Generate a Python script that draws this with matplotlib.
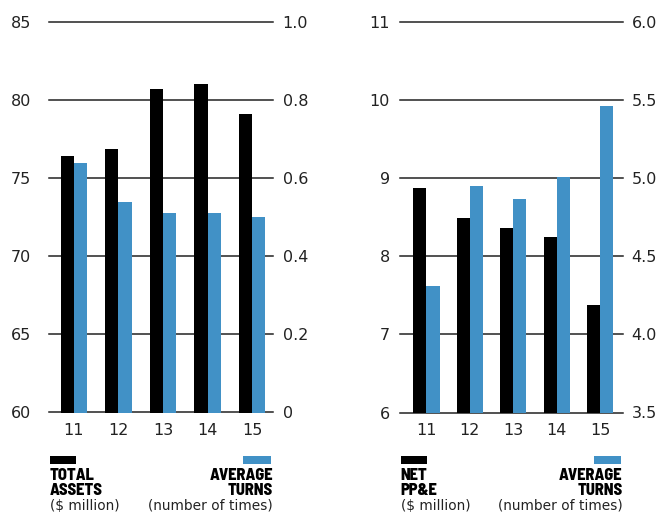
import matplotlib
matplotlib.use("Agg")
import matplotlib.pyplot as plt
from matplotlib.patches import Rectangle

# ---- data -------------------------------------------------------------
years = ["11", "12", "13", "14", "15"]

total_assets = [76.4, 76.9, 80.7, 81.0, 79.1]          # $ million
assets_turns = [0.64, 0.54, 0.51, 0.51, 0.50]           # number of times

net_ppe = [8.87, 8.49, 8.36, 8.25, 7.38]                # $ million
ppe_turns = [4.31, 4.95, 4.87, 5.01, 5.46]              # number of times

left_ticks_a = [60, 65, 70, 75, 80, 85]
left_labels_a = ["60", "65", "70", "75", "80", "85"]
right_ticks_a = [0, 0.2, 0.4, 0.6, 0.8, 1.0]
right_labels_a = ["0", "0.2", "0.4", "0.6", "0.8", "1.0"]

left_ticks_b = [6, 7, 8, 9, 10, 11]
left_labels_b = ["6", "7", "8", "9", "10", "11"]
right_ticks_b = [3.5, 4.0, 4.5, 5.0, 5.5, 6.0]
right_labels_b = ["3.5", "4.0", "4.5", "5.0", "5.5", "6.0"]

legend_a = (["TOTAL", "ASSETS"], "($ million)")
legend_b = (["NET", "PP&E"], "($ million)")
legend_turns = (["AVERAGE", "TURNS"], "(number of times)")

# ---- style ------------------------------------------------------------
W, H = 660, 516
BLACK = "#000000"
BLUE = "#4191c6"
GRID = "#222222"
TXT = "#222222"
BAR_W = 0.3
BOLD_FAMILY = ["Barlow Semi Condensed", "DejaVu Sans"]

fig = plt.figure(figsize=(W / 100, H / 100), dpi=100)


def px_box(x0, x1, ytop, ybot):
    return [x0 / W, 1 - ybot / H, (x1 - x0) / W, (ybot - ytop) / H]


def panel(box, xlim, bars_l, bars_r, lt, ll, rt, rl, lpad, rpad):
    ax = fig.add_axes(box)
    ax2 = ax.twinx()
    x = range(len(years))
    ax.set_ylim(lt[0], lt[-1])
    ax2.set_ylim(rt[0], rt[-1])
    ax.set_xlim(*xlim)
    # horizontal rules behind the bars
    for t in lt:
        ax.axhline(t, color=GRID, linewidth=1.1, zorder=0, clip_on=False)
    ax.bar([i - BAR_W / 2 for i in x], bars_l, width=BAR_W, color=BLACK,
           linewidth=0, zorder=3)
    ax2.bar([i + BAR_W / 2 for i in x], bars_r, width=BAR_W, color=BLUE,
            linewidth=0, zorder=3)
    ax.set_yticks(lt)
    ax.set_yticklabels(ll)
    ax2.set_yticks(rt)
    ax2.set_yticklabels(rl)
    ax.set_xticks(list(x))
    ax.set_xticklabels(years)
    for a in (ax, ax2):
        for s in a.spines.values():
            s.set_visible(False)
        a.tick_params(length=0, labelsize=11.5, colors=TXT)
    ax.tick_params(axis="y", pad=lpad)
    ax2.tick_params(axis="y", pad=rpad)
    ax.tick_params(axis="x", pad=7.5)
    return ax


panel(px_box(49, 273, 22, 412.5), (-0.56, 4.47), total_assets, assets_turns,
      left_ticks_a, left_labels_a, right_ticks_a, right_labels_a, 13, 7)
panel(px_box(400, 622.7, 22, 412.5), (-0.61, 4.52), net_ppe, ppe_turns,
      left_ticks_b, left_labels_b, right_ticks_b, right_labels_b, 7.2, 6.5)


def fy(y):
    return 1 - y / H


def legend_block(x, swatch_x0, swatch_x1, color, lines, sub, ha):
    fig.patches.append(Rectangle((swatch_x0 / W, fy(464)),
                                 (swatch_x1 - swatch_x0) / W, 8 / H,
                                 transform=fig.transFigure, color=color,
                                 linewidth=0))
    for txt, yb in zip(lines, (480.3, 494.7)):
        fig.text(x / W, fy(yb), txt, ha=ha, va="baseline", fontsize=11.8,
                 fontweight=800, family=BOLD_FAMILY, color=BLACK)
    fig.text(x / W, fy(509.7), sub, ha=ha, va="baseline", fontsize=9.9,
             color=TXT)


legend_block(50, 50, 76, BLACK, *legend_a, ha="left")
legend_block(273, 243.3, 270.7, BLUE, *legend_turns, ha="right")
legend_block(400.7, 400.7, 427.3, BLACK, *legend_b, ha="left")
legend_block(622.7, 594.3, 620.7, BLUE, *legend_turns, ha="right")

fig.savefig("out.png", dpi=100)
